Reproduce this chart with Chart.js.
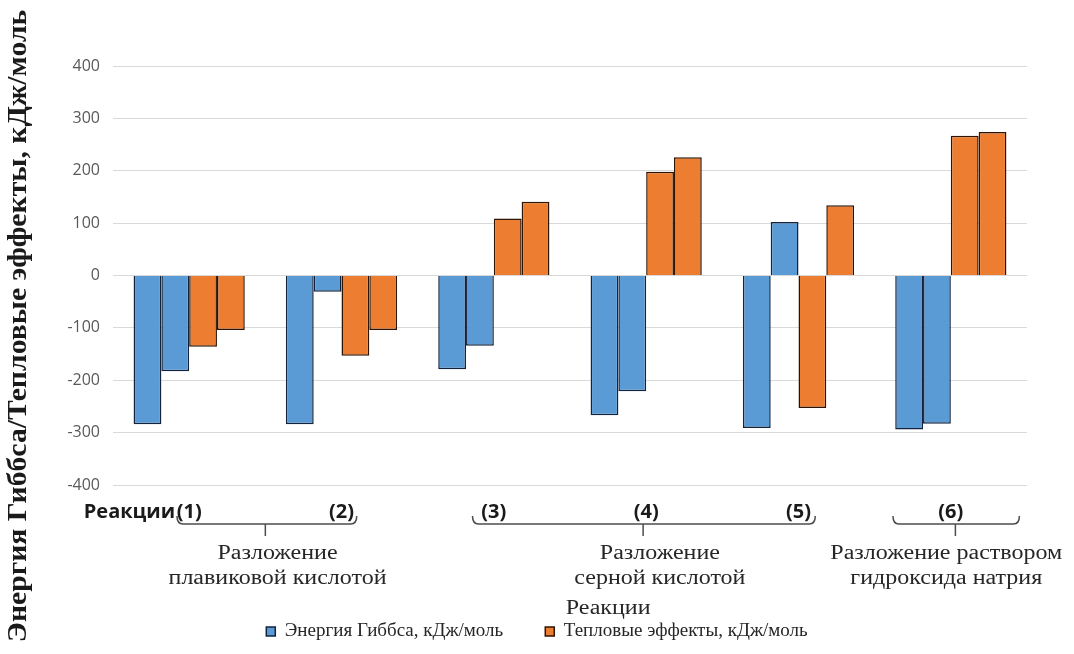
<!DOCTYPE html>
<html>
<head>
<meta charset="utf-8">
<script src="https://cdn.jsdelivr.net/npm/chart.js@4"></script>
<style>
  html, body { margin: 0; padding: 0; background: #ffffff; }
  #wrap { width: 1074px; height: 654px; }
</style>
</head>
<body>
<div id="wrap"><canvas id="c" width="1074" height="654"></canvas></div>
<script>
// Reactions (1)–(6)
const reactions = ['(1)', '(2)', '(3)', '(4)', '(5)', '(6)'];

// Gibbs energy, kJ/mol (two conditions per reaction)
const gibbsA = [-284, -284, -179, -267, -291, -294];
const gibbsB = [-183, -31, -134, -221, 102, -283];

// Heat effects, kJ/mol (two conditions per reaction)
const heatA = [-136, -153, 109, 198, -253, 267];
const heatB = [-104, -104, 141, 226, 134, 274];

const yTicks = [-400, -300, -200, -100, 0, 100, 200, 300, 400];

const seriesNames = ['Энергия Гиббса, кДж/моль', 'Тепловые эффекты, кДж/моль'];
const yTitle = 'Энергия Гиббса/Тепловые эффекты, кДж/моль';
const xTitle = 'Реакции';
const rowLead = 'Реакции';

// Reaction groups: bracket span (in category units), label lines
const groups = [
  { from: -0.08, to: 1.10, mid: 0.50, textAt: 0.58, lines: ['Разложение', 'плавиковой кислотой'] },
  { from: 1.86, to: 4.11, mid: 2.98, textAt: 3.09, lines: ['Разложение', 'серной кислотой'] },
  { from: 4.62, to: 5.45, mid: 5.03, textAt: 4.97, lines: ['Разложение раствором', 'гидроксида натрия'] }
];

const BLUE = '#5b9bd5', BLUE_EDGE = '#13233d';
const ORANGE = '#ed7d31', ORANGE_EDGE = '#2e1503';

// text widened horizontally around its anchor point
function wideText(ctx, text, x, y, sx) {
  ctx.save();
  ctx.translate(x, y);
  ctx.scale(sx, 1);
  ctx.fillText(text, 0, 0);
  ctx.restore();
}

const annotations = {
  id: 'annotations',
  afterDraw(chart) {
    const { ctx, chartArea } = chart;
    const xs = chart.scales.x;
    const px = v => xs.getPixelForValue(v);
    const base = chartArea.bottom;

    ctx.save();
    // lead-in text on the tick row
    ctx.font = 'bold 20px "Open Sans", sans-serif';
    ctx.fillStyle = '#1a1a1a';
    ctx.textAlign = 'right';
    ctx.textBaseline = 'middle';
    ctx.fillText(rowLead, px(0) - 14, base + 27);

    // brackets
    ctx.strokeStyle = '#4d4d4d';
    ctx.lineWidth = 1.5;
    const by = base + 39;
    groups.forEach(g => {
      const x1 = px(g.from), x2 = px(g.to), xm = px(g.mid);
      ctx.beginPath();
      ctx.moveTo(x1, by - 8);
      ctx.quadraticCurveTo(x1, by, x1 + 6, by);
      ctx.lineTo(x2 - 6, by);
      ctx.quadraticCurveTo(x2, by, x2, by - 8);
      ctx.stroke();
      ctx.beginPath();
      ctx.moveTo(xm, by);
      ctx.lineTo(xm, by + 12);
      ctx.stroke();
    });

    // group captions
    ctx.font = '20px "Liberation Serif", serif';
    ctx.fillStyle = '#262626';
    ctx.textAlign = 'center';
    groups.forEach(g => {
      g.lines.forEach((t, i) => wideText(ctx, t, px(g.textAt), base + 69 + i * 25, 1.2));
    });

    // x-axis title
    wideText(ctx, xTitle, px(2.75), base + 124, 1.2);

    // y-axis title
    ctx.font = 'bold 27px "Liberation Serif", serif';
    ctx.fillStyle = '#1a1a1a';
    ctx.translate(19, 326);
    ctx.rotate(-Math.PI / 2);
    ctx.scale(1.1, 1);
    ctx.fillText(yTitle, 0, 0);
    ctx.restore();
  }
};

new Chart(document.getElementById('c'), {
  type: 'bar',
  data: {
    labels: reactions,
    datasets: [
      { label: seriesNames[0], data: gibbsA, backgroundColor: BLUE, borderColor: BLUE_EDGE },
      { label: seriesNames[0], data: gibbsB, backgroundColor: BLUE, borderColor: BLUE_EDGE },
      { label: seriesNames[1], data: heatA, backgroundColor: ORANGE, borderColor: ORANGE_EDGE },
      { label: seriesNames[1], data: heatB, backgroundColor: ORANGE, borderColor: ORANGE_EDGE }
    ]
  },
  options: {
    responsive: false,
    animation: false,
    events: [],
    layout: { padding: { top: 66, right: 0, bottom: 3, left: 0 } },
    datasets: {
      bar: { barPercentage: 1.0, categoryPercentage: 0.73, borderWidth: 1.5 }
    },
    scales: {
      x: {
        grid: { display: false, drawTicks: false },
        border: { display: false },
        ticks: {
          padding: 15,
          color: '#1a1a1a',
          font: { family: '"Open Sans", sans-serif', size: 20, weight: 'bold' }
        },
        afterFit(s) { s.height = 95; }
      },
      y: {
        min: -400,
        max: 400,
        afterBuildTicks(s) { s.ticks = yTicks.map(v => ({ value: v })); },
        grid: { color: '#d9d9d9', lineWidth: 1, drawTicks: false },
        border: { display: false },
        ticks: {
          padding: 13,
          color: '#595959',
          font: { family: '"Open Sans", sans-serif', size: 16 }
        },
        afterFit(s) { s.width = 113; }
      },
      // empty right-hand margin so the legend centres on the full width
      yRight: {
        position: 'right',
        min: -400,
        max: 400,
        grid: { display: false, drawTicks: false },
        border: { display: false },
        ticks: { display: false },
        afterFit(s) { s.width = 47; }
      }
    },
    plugins: {
      legend: {
        position: 'bottom',
        labels: {
          filter: item => item.datasetIndex === 0 || item.datasetIndex === 2,
          boxWidth: 9,
          boxHeight: 9,
          padding: 42,
          color: '#262626',
          font: { family: '"Liberation Serif", serif', size: 19 }
        }
      },
      tooltip: { enabled: false }
    }
  },
  plugins: [annotations]
});
</script>
</body>
</html>
